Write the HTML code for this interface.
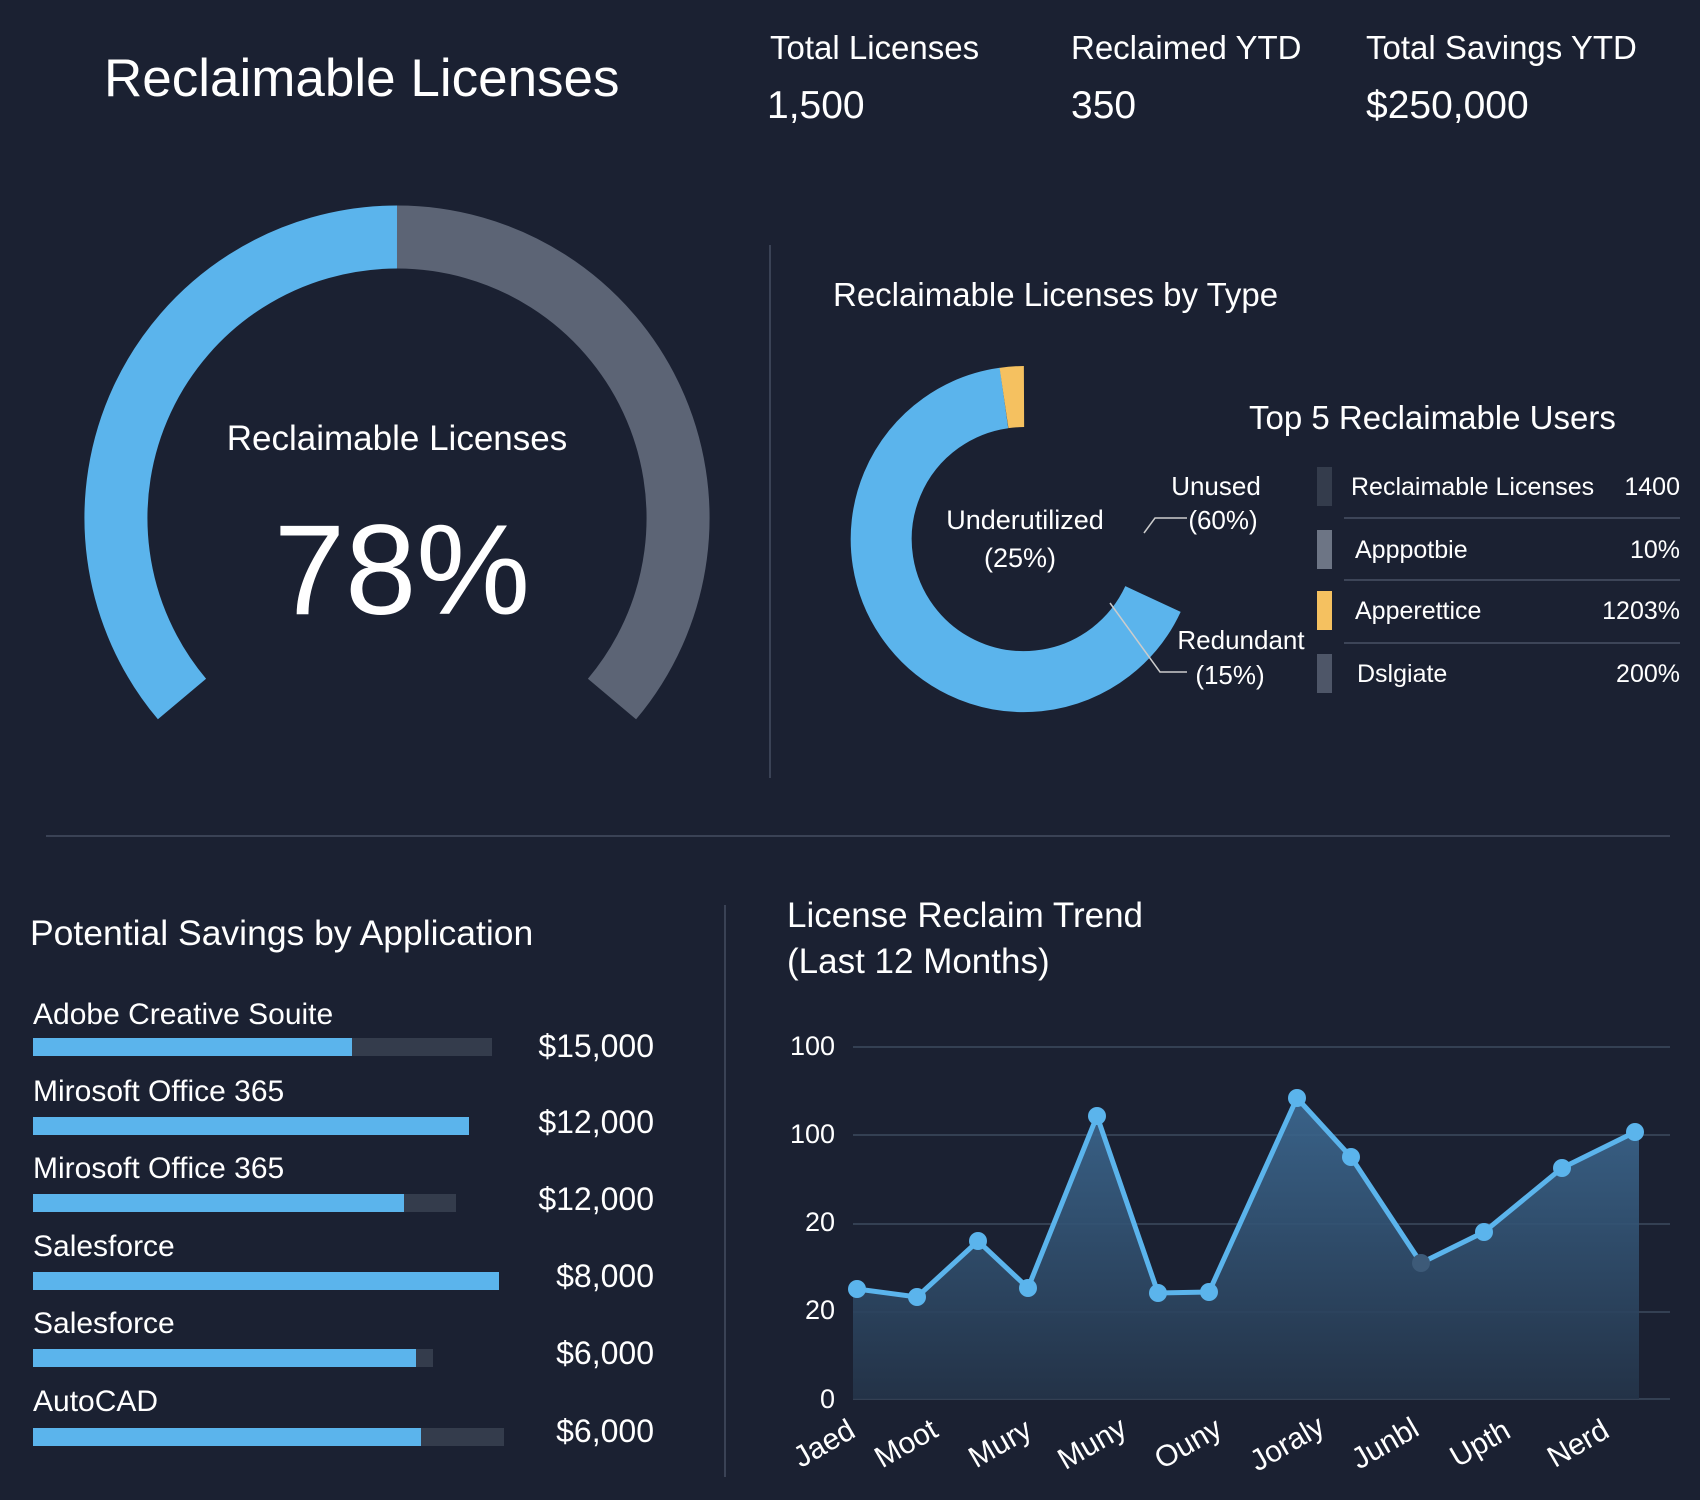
<!DOCTYPE html>
<html><head><meta charset="utf-8"><style>
html,body{margin:0;padding:0;background:#1b2132;}
svg{display:block;font-family:"Liberation Sans","DejaVu Sans",sans-serif;}
</style></head><body>
<svg width="1700" height="1500" viewBox="0 0 1700 1500" xmlns="http://www.w3.org/2000/svg">
<rect width="1700" height="1500" fill="#1b2132"/>
<defs><linearGradient id="ag" x1="0" y1="0" x2="0" y2="1"><stop offset="0" stop-color="#3d6a93" stop-opacity="0.9"/><stop offset="1" stop-color="#243449" stop-opacity="0.9"/></linearGradient></defs>

<text x="104" y="96" font-size="53" fill="#fff">Reclaimable Licenses</text>
<g fill="#fff" font-size="33">
<text x="770" y="59">Total Licenses</text>
<text x="1071" y="59">Reclaimed YTD</text>
<text x="1366" y="59">Total Savings YTD</text>
<text x="767" y="118" font-size="39">1,500</text>
<text x="1071" y="118" font-size="39">350</text>
<text x="1366" y="118" font-size="39">$250,000</text>
</g>

<path d="M182 699 A281 281 0 0 1 397 237" fill="none" stroke="#5bb4ec" stroke-width="63"/>
<path d="M397 237 A281 281 0 0 1 612 699" fill="none" stroke="#5c6475" stroke-width="63"/>
<text x="397" y="450" font-size="35" fill="#fff" text-anchor="middle">Reclaimable Licenses</text>
<text x="402" y="614" font-size="128" fill="#fff" text-anchor="middle">78%</text>

<line x1="770" y1="245" x2="770" y2="778" stroke="#3a4255" stroke-width="2"/>
<text x="833" y="306" font-size="33" fill="#fff">Reclaimable Licenses by Type</text>

<path d="M1153 599 A142.5 142.5 0 1 1 1004 398" fill="none" stroke="#5bb4ec" stroke-width="61"/>
<path d="M1004 398 A142.5 142.5 0 0 1 1024 396.5" fill="none" stroke="#f5c160" stroke-width="61"/>
<g font-size="27" fill="#fff" text-anchor="middle">
<text x="1025" y="529">Underutilized</text><text x="1020" y="567">(25%)</text>
<text x="1216" y="495" font-size="26">Unused</text><text x="1223" y="529" font-size="26">(60%)</text>
<text x="1241" y="649" font-size="26">Redundant</text><text x="1230" y="684" font-size="26">(15%)</text>
</g>
<polyline points="1144,533 1155,518 1187,518" fill="none" stroke="#ccc" stroke-width="1.5"/>
<polyline points="1110,603 1160,672 1187,672" fill="none" stroke="#ccc" stroke-width="1.5"/>

<text x="1249" y="429" font-size="33" fill="#fff">Top 5 Reclaimable Users</text>
<g font-size="25" fill="#fff">
<rect x="1317" y="467" width="15" height="39" fill="#343c4c"/>
<text x="1351" y="495">Reclaimable Licenses</text><text x="1680" y="495" text-anchor="end">1400</text>
<rect x="1317" y="530" width="15" height="39" fill="#6d7585"/>
<text x="1355" y="558">Apppotbie</text><text x="1680" y="558" text-anchor="end">10%</text>
<rect x="1317" y="591" width="15" height="39" fill="#f5c160"/>
<text x="1355" y="619">Apperettice</text><text x="1680" y="619" text-anchor="end">1203%</text>
<rect x="1317" y="654" width="15" height="39" fill="#4e5668"/>
<text x="1357" y="682">Dslgiate</text><text x="1680" y="682" text-anchor="end">200%</text>
</g>
<g stroke="#3d4558" stroke-width="2"><line x1="1344" y1="518" x2="1680" y2="518"/><line x1="1344" y1="580" x2="1680" y2="580"/><line x1="1344" y1="643" x2="1680" y2="643"/></g>

<line x1="46" y1="836" x2="1670" y2="836" stroke="#3a4255" stroke-width="2"/>
<line x1="725" y1="905" x2="725" y2="1477" stroke="#3a4255" stroke-width="2"/>

<text x="30" y="945" font-size="35.5" fill="#fff">Potential Savings by Application</text>
<g font-size="30" fill="#fff">
<text x="33" y="1024">Adobe Creative Souite</text>
<text x="33" y="1101">Mirosoft Office 365</text>
<text x="33" y="1178">Mirosoft Office 365</text>
<text x="33" y="1256">Salesforce</text>
<text x="33" y="1333">Salesforce</text>
<text x="33" y="1411">AutoCAD</text>
</g>
<g fill="#343c4c">
<rect x="33" y="1038" width="459" height="18"/><rect x="33" y="1194" width="423" height="18"/>
<rect x="33" y="1349" width="400" height="18"/><rect x="33" y="1428" width="471" height="18"/>
</g>
<g fill="#5bb4ec">
<rect x="33" y="1038" width="319" height="18"/><rect x="33" y="1117" width="436" height="18"/>
<rect x="33" y="1194" width="371" height="18"/><rect x="33" y="1272" width="466" height="18"/>
<rect x="33" y="1349" width="383" height="18"/><rect x="33" y="1428" width="388" height="18"/>
</g>
<g font-size="32" fill="#fff" text-anchor="end">
<text x="654" y="1057">$15,000</text><text x="654" y="1133">$12,000</text><text x="654" y="1210">$12,000</text>
<text x="654" y="1287">$8,000</text><text x="654" y="1364">$6,000</text><text x="654" y="1442">$6,000</text>
</g>

<text x="787" y="927" font-size="35" fill="#fff">License Reclaim Trend</text>
<text x="787" y="973" font-size="35" fill="#fff">(Last 12 Months)</text>
<g stroke="#3d4a5e" stroke-width="1.5">
<line x1="853" y1="1047" x2="1670" y2="1047"/><line x1="853" y1="1135" x2="1670" y2="1135"/>
<line x1="853" y1="1224" x2="1670" y2="1224"/><line x1="853" y1="1312" x2="1670" y2="1312"/>
<line x1="853" y1="1399" x2="1670" y2="1399"/>
</g>
<g font-size="27" fill="#fff" text-anchor="end">
<text x="835" y="1055">100</text><text x="835" y="1143">100</text><text x="835" y="1231">20</text><text x="835" y="1319">20</text><text x="835" y="1408">0</text>
</g>
<path d="M853 1289 L857 1289 L917 1297 L978 1241 L1028 1288 L1097 1116 L1158 1293 L1209 1292 L1297 1098 L1351 1157 L1421 1263 L1484 1232 L1562 1168 L1635 1132 L1639 1132 L1639 1399 L853 1399 Z" fill="url(#ag)"/>
<polyline points="857,1289 917,1297 978,1241 1028,1288 1097,1116 1158,1293 1209,1292 1297,1098 1351,1157 1421,1263 1484,1232 1562,1168 1635,1132" fill="none" stroke="#5bb4ec" stroke-width="5"/>
<g fill="#5bb4ec">
<circle cx="857" cy="1289" r="9"/><circle cx="917" cy="1297" r="9"/><circle cx="978" cy="1241" r="9"/><circle cx="1028" cy="1288" r="9"/><circle cx="1097" cy="1116" r="9"/><circle cx="1158" cy="1293" r="9"/><circle cx="1209" cy="1292" r="9"/><circle cx="1297" cy="1098" r="9"/><circle cx="1351" cy="1157" r="9"/><circle cx="1421" cy="1263" r="9" fill="#3d5a78"/><circle cx="1484" cy="1232" r="9"/><circle cx="1562" cy="1168" r="9"/><circle cx="1635" cy="1132" r="9"/>
</g>
<g font-size="30" fill="#fff" text-anchor="middle">
<text transform="translate(829,1452) rotate(-30)">Jaed</text>
<text transform="translate(911,1452) rotate(-30)">Moot</text>
<text transform="translate(1005,1452) rotate(-30)">Mury</text>
<text transform="translate(1097,1452) rotate(-30)">Muny</text>
<text transform="translate(1193,1452) rotate(-30)">Ouny</text>
<text transform="translate(1292,1452) rotate(-30)">Joraly</text>
<text transform="translate(1390,1452) rotate(-30)">Junbl</text>
<text transform="translate(1485,1452) rotate(-30)">Upth</text>
<text transform="translate(1583,1452) rotate(-30)">Nerd</text>
</g>
</svg>
</body></html>
